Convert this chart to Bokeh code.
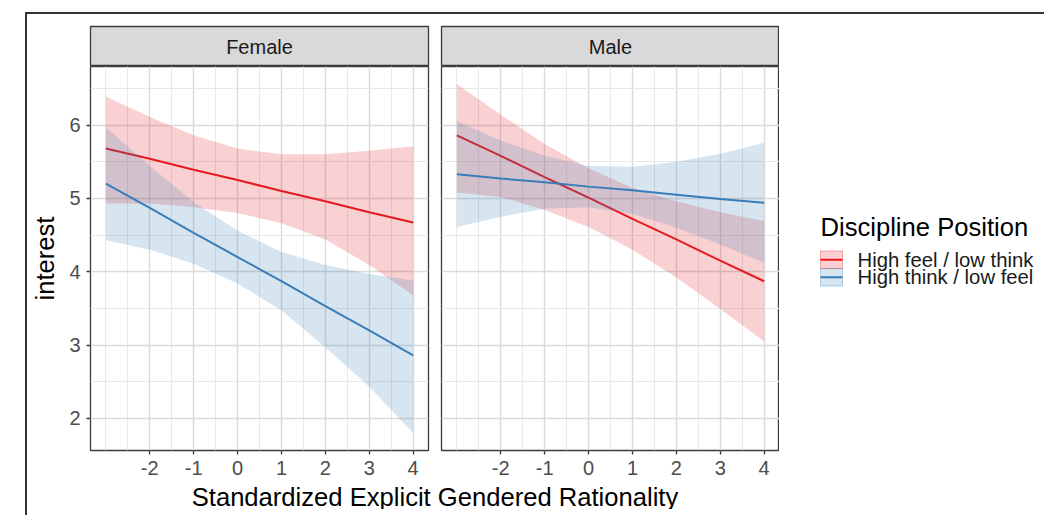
from bokeh.plotting import figure
from bokeh.models import Range1d, FixedTicker, Grid, Label
from bokeh.layouts import row, column
from bokeh.embed import file_html
from bokeh.resources import INLINE
from bokeh.core.properties import value

# ---------------- data ----------------
panels = ["Female", "Male"]
groups = ["High feel / low think", "High think / low feel"]
colors = ["#E41A1C", "#377EB8"]
x_vals = [-3, -2, -1, 0, 1, 2, 3, 4]
x_ticks = [-2, -1, 0, 1, 2, 3, 4]
y_ticks = [2, 3, 4, 5, 6]

female_feel_fit = [5.68, 5.54, 5.39, 5.25, 5.10, 4.96, 4.81, 4.67]
female_feel_hi = [6.39, 6.11, 5.86, 5.68, 5.60, 5.60, 5.65, 5.71]
female_feel_lo = [4.93, 4.93, 4.88, 4.80, 4.66, 4.44, 4.09, 3.68]
female_think_fit = [5.20, 4.87, 4.53, 4.20, 3.87, 3.53, 3.20, 2.86]
female_think_hi = [5.97, 5.44, 4.95, 4.56, 4.27, 4.09, 3.97, 3.88]
female_think_lo = [4.43, 4.30, 4.11, 3.84, 3.47, 2.97, 2.43, 1.80]

male_feel_fit = [5.86, 5.58, 5.29, 5.01, 4.72, 4.44, 4.15, 3.87]
male_feel_hi = [6.56, 6.14, 5.74, 5.41, 5.14, 4.96, 4.81, 4.69]
male_feel_lo = [5.08, 5.02, 4.84, 4.61, 4.30, 3.92, 3.49, 3.05]
male_think_fit = [5.33, 5.27, 5.22, 5.16, 5.11, 5.05, 4.99, 4.94]
male_think_hi = [6.05, 5.79, 5.58, 5.44, 5.43, 5.50, 5.61, 5.76]
male_think_lo = [4.61, 4.75, 4.86, 4.88, 4.79, 4.60, 4.37, 4.12]

x_title = "Standardized Explicit Gendered Rationality"
y_title = "interest"
legend_title = "Discipline Position"

series = {
    "Female": [(female_feel_fit, female_feel_hi, female_feel_lo),
               (female_think_fit, female_think_hi, female_think_lo)],
    "Male": [(male_feel_fit, male_feel_hi, male_feel_lo),
             (male_think_fit, male_think_hi, male_think_lo)],
}

# ---------------- scales ----------------
FONT = "Liberation Sans"
TITLE_SIZE = "25.6px"
xmin, xmax = min(x_vals), max(x_vals)
xpad = 0.05 * (xmax - xmin)
all_hi = female_feel_hi + female_think_hi + male_feel_hi + male_think_hi
all_lo = female_feel_lo + female_think_lo + male_feel_lo + male_think_lo
ymin, ymax = min(all_lo), max(all_hi)
ypad = 0.05 * (ymax - ymin)

def minor_of(ticks, lo, hi):
    step = ticks[1] - ticks[0]
    ext = [ticks[0] - step] + ticks + [ticks[-1] + step]
    out = []
    for a, b in zip(ext[:-1], ext[1:]):
        for m in (a, (a + b) / 2):
            if lo <= m <= hi and m not in ticks:
                out.append(m)
    return out

x_minor = minor_of(x_ticks, xmin - xpad, xmax + xpad)
y_minor = minor_of(y_ticks, ymin - ypad, ymax + ypad)

FRAME_W = 338
FRAME_H = 384
GRID_MAJ = "#DADADA"
GRID_MIN = "#E8E8E8"
BORDER = "#3C3C3C"


def make_strip(name, left, right):
    s = figure(width=left + FRAME_W + right, height=52,
               x_range=Range1d(xmin - xpad, xmax + xpad), y_range=Range1d(0, 1),
               x_axis_type=None, y_axis_type=None,
               output_backend="svg", toolbar_location=None,
               min_border_left=left, min_border_right=right,
               min_border_top=12, min_border_bottom=0)
    s.background_fill_color = "#D9D9D9"
    s.border_fill_color = "white"
    s.outline_line_color = BORDER
    s.outline_line_width = 1.3
    s.text(x=[(xmin + xmax) / 2], y=[0.5], text=[name],
           text_font=value(FONT), text_font_size="20px",
           text_color="#1A1A1A", text_align="center", text_baseline="middle")
    return s


def make_panel(name, left, right, show_y):
    p = figure(width=left + FRAME_W + right, height=FRAME_H + 33,
               x_range=Range1d(xmin - xpad, xmax + xpad),
               y_range=Range1d(ymin - ypad, ymax + ypad),
               y_axis_type="linear" if show_y else None,
               output_backend="svg", toolbar_location=None,
               min_border_left=left, min_border_right=right,
               min_border_top=0, min_border_bottom=33)
    p.background_fill_color = "white"
    p.border_fill_color = "white"
    p.outline_line_color = BORDER
    p.outline_line_width = 1.3

    xt = FixedTicker(ticks=x_ticks, minor_ticks=x_minor)
    yt = FixedTicker(ticks=y_ticks, minor_ticks=y_minor)
    p.xaxis.ticker = xt
    p.xaxis.major_label_overrides = {t: str(t) for t in x_ticks}
    axes = [p.xaxis]
    if show_y:
        p.yaxis.ticker = yt
        p.yaxis.major_label_overrides = {t: str(t) for t in y_ticks}
        axes.append(p.yaxis)
        p.yaxis.axis_label = y_title
        p.yaxis.axis_label_text_font = FONT
        p.yaxis.axis_label_text_font_size = TITLE_SIZE
        p.yaxis.axis_label_text_font_style = "normal"
        p.yaxis.axis_label_text_color = "black"
        p.yaxis.axis_label_standoff = 7
    else:
        p.add_layout(Grid(dimension=1, ticker=yt))
    for ax in axes:
        ax.axis_line_color = None
        ax.major_tick_in = 0
        ax.major_tick_out = 4
        ax.major_tick_line_color = BORDER
        ax.major_tick_line_width = 1.3
        ax.minor_tick_line_color = None
        ax.major_label_text_font = FONT
        ax.major_label_text_font_size = "20px"
        ax.major_label_text_color = "#4D4D4D"
        ax.major_label_standoff = 6
    for g in p.grid:
        g.grid_line_color = GRID_MAJ
        g.grid_line_width = 1.4
        g.minor_grid_line_color = GRID_MIN
        g.minor_grid_line_width = 1.0

    for (fit, hi, lo), col in zip(series[name], colors):
        p.varea(x=x_vals, y1=lo, y2=hi, fill_color=col, fill_alpha=0.2)
        p.line(x=x_vals, y=fit, line_color=col, line_width=2)
    return p


strip_f = make_strip("Female", 63, 6)
panel_f = make_panel("Female", 63, 6, True)
strip_m = make_strip("Male", 7, 0)
panel_m = make_panel("Male", 7, 0, False)

# shared x-axis title
total_w = (63 + FRAME_W + 6) + (7 + FRAME_W)
xt_fig = figure(width=total_w, height=26, x_range=Range1d(0, 1), y_range=Range1d(0, 1),
                x_axis_type=None, y_axis_type=None, output_backend="svg",
                toolbar_location=None, min_border_left=63, min_border_right=0,
                min_border_top=0, min_border_bottom=0)
xt_fig.outline_line_color = None
xt_fig.add_layout(Label(x=0.5, y=0.5, text=x_title, text_font=FONT,
                        text_font_size=TITLE_SIZE, text_color="black",
                        text_align="center", text_baseline="middle"))

# legend (layout in pixels of its own canvas, measured from the top)
LW, LH = 265, 501
leg = figure(width=LW, height=LH, x_range=Range1d(0, LW), y_range=Range1d(LH, 0),
             x_axis_type=None, y_axis_type=None, output_backend="svg",
             toolbar_location=None, min_border=0)
leg.outline_line_color = None
leg.text(x=[41], y=[212], text=[legend_title], text_font=value(FONT),
         text_font_size=TITLE_SIZE, text_color="black", text_baseline="middle")
KEY_H = 17.5
for i, (g, col) in enumerate(zip(groups, colors)):
    top = 236.5 + i * KEY_H
    mid = top + KEY_H / 2
    leg.quad(left=[41], right=[63], top=[top], bottom=[top + KEY_H],
             fill_color=col, fill_alpha=0.2, line_color=col, line_alpha=0.35, line_width=1)
    leg.line(x=[41, 63], y=[mid, mid], line_color=col, line_width=2)
    leg.text(x=[78], y=[mid], text=[g], text_font=value(FONT),
             text_font_size="20.3px", text_color="#1A1A1A", text_baseline="middle")

inner = row(column(row(column(strip_f, panel_f), column(strip_m, panel_m)), xt_fig), leg)
outer = column(inner, margin=(12, 0, 0, 25),
               styles={"border-top": "2px solid #333333", "border-left": "2px solid #333333"})

open("out.html", "w").write(file_html(outer, INLINE))
